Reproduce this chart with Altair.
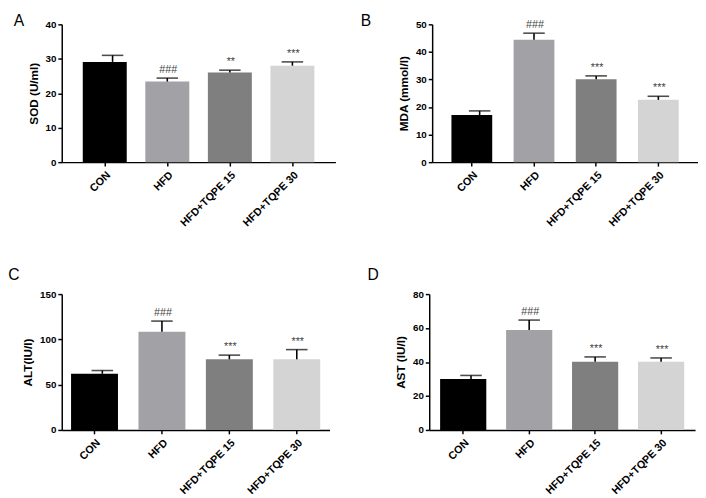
import altair as alt
import pandas as pd

groups = ["CON", "HFD", "HFD+TQPE 15", "HFD+TQPE 30"]
bar_colors = ["#000000", "#a2a2a6", "#7f7f7f", "#d4d4d4"]

sod_mean = [29.1, 23.4, 26.0, 28.0]
sod_err = [1.9, 1.0, 0.7, 1.1]
sod_sig = ["", "###", "**", "***"]

mda_mean = [17.1, 44.4, 30.1, 22.6]
mda_err = [1.5, 2.4, 1.2, 1.3]
mda_sig = ["", "###", "***", "***"]

alt_mean = [62.0, 108.5, 78.0, 78.0]
alt_err = [3.6, 11.7, 4.6, 10.7]
alt_sig = ["", "###", "***", "***"]

ast_mean = [30.0, 58.8, 40.1, 40.1]
ast_err = [2.1, 5.9, 2.9, 2.3]
ast_sig = ["", "###", "***", "***"]

FONT = "Liberation Sans"


def panel(letter, ytitle, mean, err, sig, ymax, ystep, width, height, pin, pout, ldx, loff):
    df = pd.DataFrame({
        "group": groups,
        "mean": mean,
        "upper": [m + e for m, e in zip(mean, err)],
        "sig": sig,
    })
    xs = alt.Scale(domain=groups, paddingInner=pin, paddingOuter=pout)
    xax = alt.Axis(title=None, labelAngle=-45, labelFontSize=11, labelPadding=3)
    x_enc = alt.X("group:N", sort=groups, scale=xs, axis=xax)
    ys = alt.Scale(domain=[0, ymax], nice=False)
    yax = alt.Axis(title=ytitle, values=list(range(0, ymax + 1, ystep)),
                   format="d", titlePadding=5, labelOverlap=False)
    y_mean = alt.Y("mean:Q", scale=ys, axis=yax)
    y_up = alt.Y("upper:Q", scale=ys, axis=yax)
    base = alt.Chart(df)
    bars = base.mark_bar().encode(
        x=x_enc, y=y_mean,
        color=alt.Color("group:N", scale=alt.Scale(domain=groups, range=bar_colors), legend=None),
    )
    rest = base.transform_filter(alt.datum.group != "CON")
    con = base.transform_filter(alt.datum.group == "CON")
    rule_a = rest.mark_rule(color="black", strokeWidth=1.6).encode(
        x=x_enc, y=y_mean, y2="upper:Q")
    tick_a = rest.mark_tick(color="black", thickness=1.6, size=22, orient="horizontal").encode(
        x=x_enc, y=y_up)
    rule_c = con.mark_rule(color="black", strokeWidth=1.6, xOffset=8).encode(
        x=x_enc, y=y_mean, y2="upper:Q")
    tick_c = con.mark_tick(color="black", thickness=1.6, size=22, orient="horizontal",
                           xOffset=8).encode(x=x_enc, y=y_up)
    text = base.mark_text(font=FONT, fontSize=11, color="#444444", baseline="bottom",
                          dy=-3, dx=1).encode(x=x_enc, y=y_up, text="sig:N")
    return alt.layer(bars, rule_a, tick_a, rule_c, tick_c, text).properties(
        width=width, height=height,
        title=alt.TitleParams(letter, anchor="start", frame="bounds", fontSize=16,
                              fontWeight="normal", font=FONT, color="black",
                              dx=ldx, offset=loff),
    )


pA = panel("A", "SOD (U/ml)", sod_mean, sod_err, sod_sig, 40, 10, 280, 141, 0.297, 0.336, -14, -10)
pB = panel("B", "MDA (mmol/l)", mda_mean, mda_err, mda_sig, 50, 10, 272, 141, 0.344, 0.31, -38, -10)
pC = panel("C", "ALT(IU/l)", alt_mean, alt_err, alt_sig, 150, 50, 274, 139, 0.304, 0.138, -14, 6)
pD = panel("D", "AST (IU/l)", ast_mean, ast_err, ast_sig, 80, 20, 272, 139, 0.30, 0.165, -28, 6)

top = alt.hconcat(pA, pB, spacing=25)
bottom = alt.hconcat(pC, pD, spacing=38)

chart = alt.vconcat(top, bottom, spacing=40).properties(
    padding={"left": 0, "top": 0, "right": 0, "bottom": 0}
).configure_view(stroke=None).configure_axis(
    grid=False, domainColor="black", domainWidth=1.5, tickColor="black", tickWidth=1.5,
    tickSize=4, labelFont=FONT, labelFontWeight="bold", labelFontSize=10, labelColor="black",
    titleFont=FONT, titleFontWeight="bold", titleFontSize=12, titleColor="black", labelPadding=2,
)

chart.save("out.html", embed_options={"renderer": "svg", "actions": False})
